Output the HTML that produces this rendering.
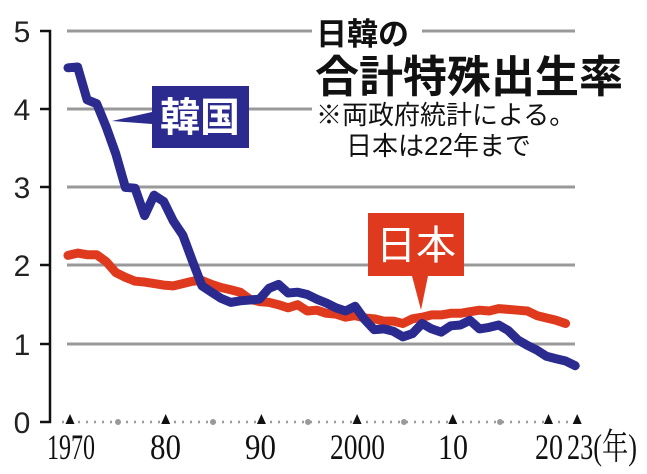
<!DOCTYPE html>
<html><head><meta charset="utf-8"><style>
html,body{margin:0;padding:0;background:#fff;width:647px;height:474px;overflow:hidden}
text{font-family:"Liberation Sans","Noto Sans CJK JP",sans-serif}
.s{font-family:"Liberation Serif","Noto Serif CJK SC",serif}
</style></head><body>
<svg id="c" width="647" height="474" xmlns="http://www.w3.org/2000/svg">
<g stroke="#999" stroke-width="3">
<line x1="67" y1="31" x2="575" y2="31"/>
<line x1="67" y1="109" x2="575" y2="109"/>
<line x1="67" y1="187" x2="575" y2="187"/>
<line x1="67" y1="265" x2="575" y2="265"/>
<line x1="67" y1="344" x2="575" y2="344"/>
</g>
<g stroke="#111" stroke-width="2.5" fill="none">
<polyline points="40,31 50,31 50,422 40,422"/>
<line x1="40" y1="109" x2="50" y2="109"/>
<line x1="40" y1="187" x2="50" y2="187"/>
<line x1="40" y1="265" x2="50" y2="265"/>
<line x1="40" y1="344" x2="50" y2="344"/>
</g>
<g font-size="30" fill="#222" text-anchor="middle">
<text x="22" y="42">5</text><text x="22" y="120">4</text><text x="22" y="198">3</text>
<text x="22" y="276">2</text><text x="22" y="355">1</text><text x="22" y="433">0</text>
</g>
<line x1="62" y1="422" x2="580" y2="422" stroke="#999" stroke-width="2.5" stroke-dasharray="2,6"/>
<g fill="#999"><circle cx="118" cy="422" r="3"/><circle cx="213" cy="422" r="3"/><circle cx="308" cy="422" r="3"/><circle cx="404" cy="422" r="3"/><circle cx="500" cy="422" r="3"/></g>
<g id="tri" fill="#111"></g>
<g font-size="36" fill="#111">
<text class="s" x="47" y="459" textLength="48" lengthAdjust="spacingAndGlyphs">1970</text>
<text class="s" x="150" y="459" textLength="31" lengthAdjust="spacingAndGlyphs">80</text>
<text class="s" x="245" y="459" textLength="31" lengthAdjust="spacingAndGlyphs">90</text>
<text class="s" x="330" y="459" textLength="55" lengthAdjust="spacingAndGlyphs">2000</text>
<text class="s" x="438" y="459" textLength="30" lengthAdjust="spacingAndGlyphs">10</text>
<text class="s" x="535" y="459" textLength="28" lengthAdjust="spacingAndGlyphs">20</text>
<text class="s" x="567" y="459" textLength="70" lengthAdjust="spacingAndGlyphs">23(年)</text>
</g>
<polyline id="jp" fill="none" stroke="#e03a1e" stroke-width="9" stroke-linejoin="round" stroke-linecap="round"/>
<polyline id="kr" fill="none" stroke="#2a2a8f" stroke-width="9" stroke-linejoin="round" stroke-linecap="round"/>
<rect x="312" y="14" width="110" height="36" fill="#fff"/>
<rect x="312" y="95" width="280" height="70" fill="#fff"/>
<text x="316" y="45" font-size="31" font-weight="bold" fill="#111">日韓の</text>
<text x="315" y="92" font-size="44" font-weight="bold" fill="#111">合計特殊出生率</text>
<text x="316" y="124" font-size="26" fill="#111">※両政府統計による。</text>
<text x="346" y="155" font-size="26" fill="#111">日本は22年まで</text>
<polygon points="152,112 112,121 152,124" fill="#2a2a8f"/>
<rect x="152" y="86" width="97" height="62" fill="#2a2a8f"/>
<text x="200" y="131" font-size="40" font-weight="bold" fill="#fff" text-anchor="middle">韓国</text>
<polygon points="412,276 421,310 428,276" fill="#e03a1e"/>
<rect x="368" y="213" width="96" height="63" fill="#e03a1e"/>
<text x="416" y="259" font-size="40" fill="#fff" text-anchor="middle">日本</text>
</svg>
<script>
var kr=[4.53,4.54,4.12,4.07,3.77,3.43,3.00,2.99,2.64,2.90,2.82,2.57,2.39,2.06,1.74,1.66,1.58,1.53,1.55,1.56,1.57,1.71,1.76,1.65,1.66,1.63,1.57,1.52,1.46,1.42,1.48,1.31,1.18,1.19,1.16,1.09,1.13,1.26,1.19,1.15,1.23,1.24,1.30,1.19,1.21,1.24,1.17,1.05,0.98,0.92,0.84,0.81,0.78,0.72];
var jp=[2.13,2.16,2.14,2.14,2.05,1.91,1.85,1.80,1.79,1.77,1.75,1.74,1.77,1.80,1.81,1.76,1.72,1.69,1.66,1.57,1.54,1.53,1.50,1.46,1.50,1.42,1.43,1.39,1.38,1.34,1.36,1.33,1.32,1.29,1.29,1.26,1.32,1.34,1.37,1.37,1.39,1.39,1.41,1.43,1.42,1.45,1.44,1.43,1.42,1.36,1.33,1.30,1.26];
function X(i){return 68+9.57*i}function Y(v){return 422-78.2*v}
function p(a){return a.map(function(v,i){return X(i).toFixed(1)+","+Y(v).toFixed(1)}).join(" ")}
document.getElementById("kr").setAttribute("points",p(kr));
document.getElementById("jp").setAttribute("points",p(jp));
var t="";[0,10,20,30,40,50,53].forEach(function(i){var x=70+9.57*i;t+='<polygon points="'+(x-4.5)+',424 '+(x+4.5)+',424 '+x+',414"/>'});
document.getElementById("tri").innerHTML=t;
</script>
</body></html>
